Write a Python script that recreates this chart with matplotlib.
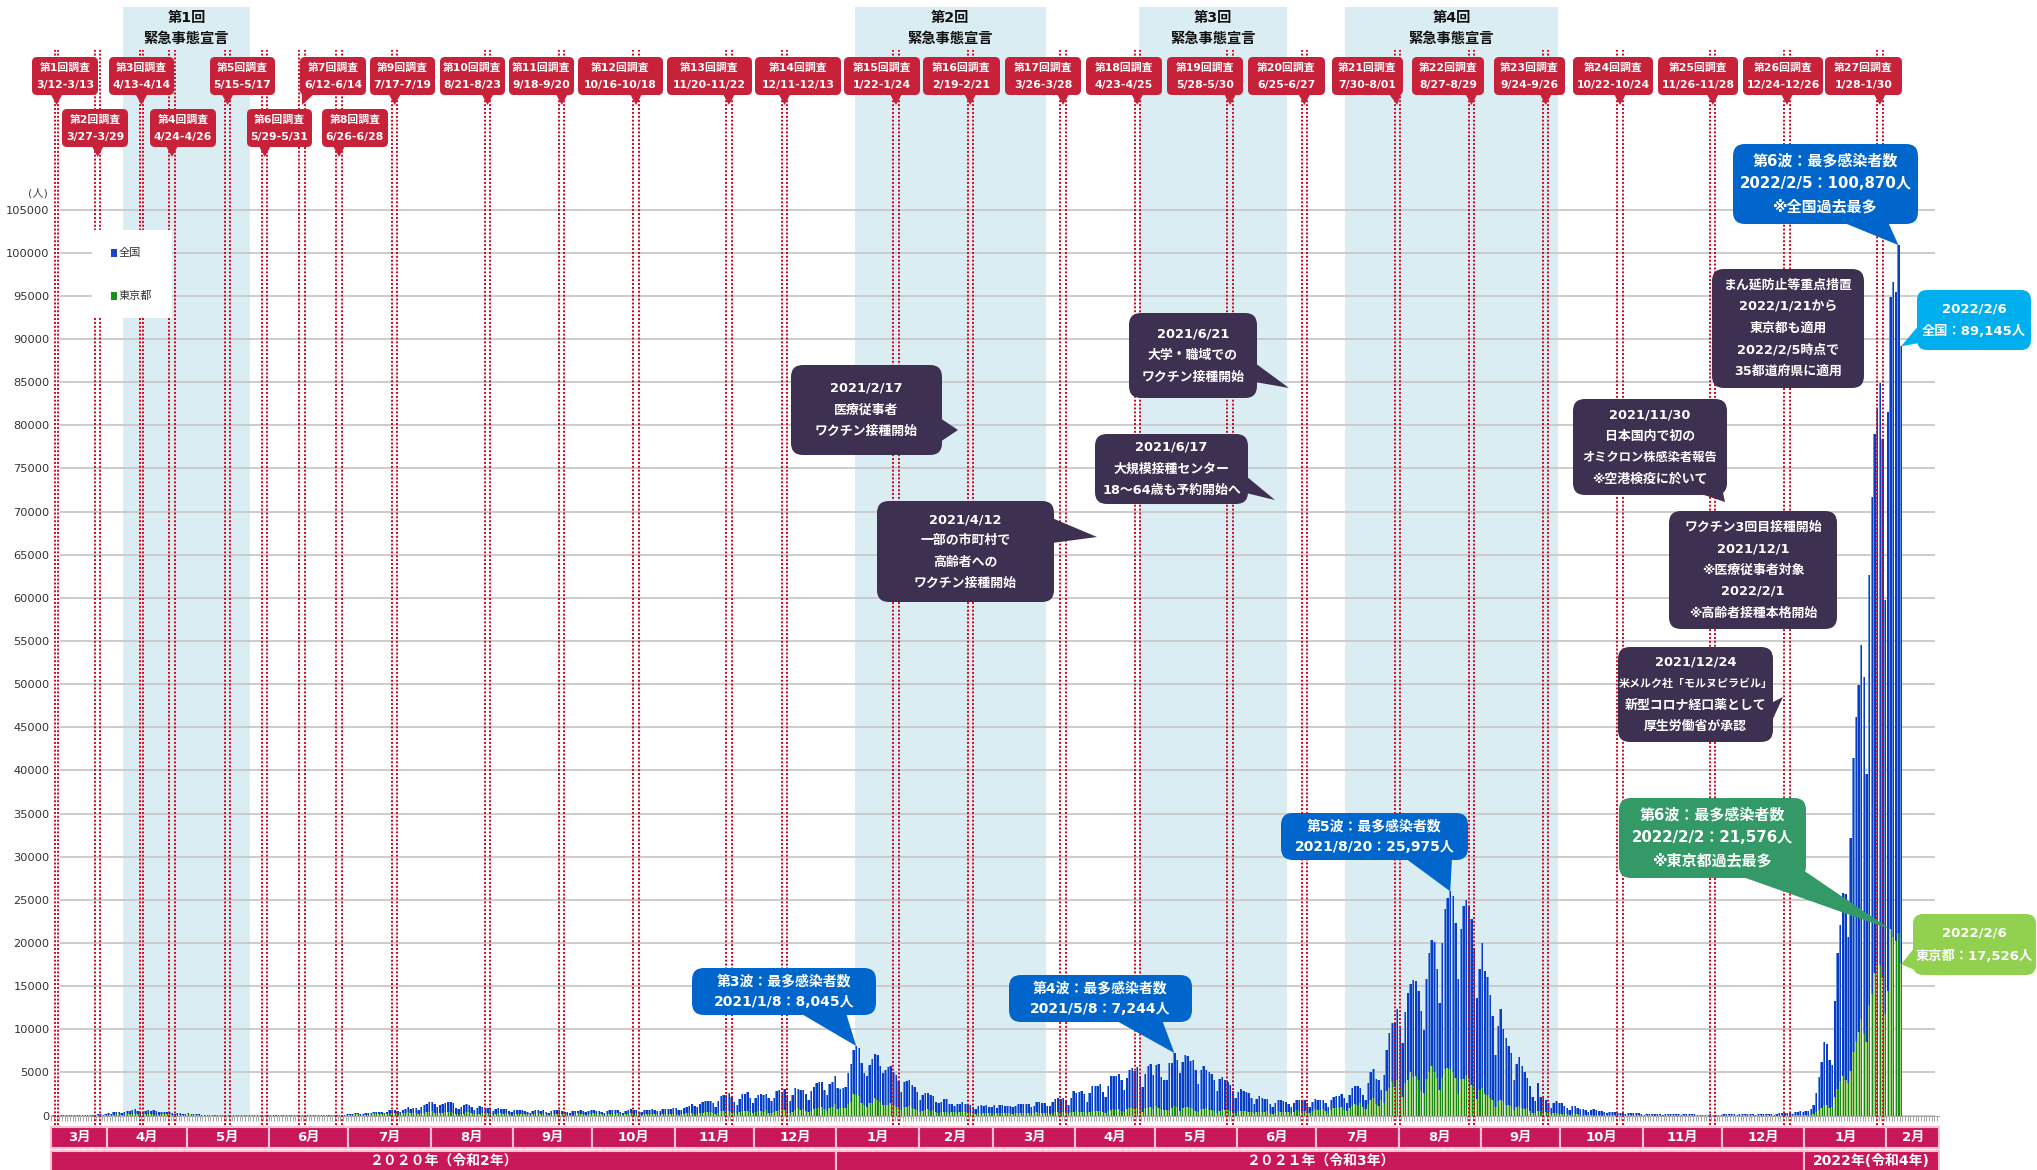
import datetime as dt
import matplotlib
matplotlib.use("Agg")
import matplotlib.pyplot as plt
import matplotlib.dates as mdates
import matplotlib.transforms as mtransforms
from matplotlib.patches import FancyBboxPatch, Polygon, Rectangle

plt.rcParams['font.family'] = ['DejaVu Sans', 'Noto Sans CJK JP']

# ---------------- DATA ----------------
# Daily new cases, whole country (全国). One inner list per month.
national_2020 = [  # from 2020-03-11
    [52, 56, 52, 60, 64, 15, 44, 39, 39, 41, 53, 43, 38, 39, 65, 93, 96, 200, 173, 87, 220],
    [266, 231, 350, 362, 382, 252, 352, 503, 576, 638, 708, 566, 390, 457, 549, 589, 576, 584, 568, 385,
     375, 439, 451, 433, 346, 201, 248, 277, 205, 174],
    [264, 197, 203, 125, 123, 98, 98, 83, 108, 54, 70, 58, 50, 53, 38, 16, 54, 26, 29, 38,
     25, 14, 27, 21, 22, 36, 38, 41, 48, 40, 48],
    [34, 40, 47, 48, 42, 44, 32, 39, 39, 44, 36, 42, 50, 56, 72, 42, 41, 33, 68, 46,
     57, 50, 31, 96, 49, 105, 94, 110, 88, 130],
    [131, 194, 250, 274, 207, 205, 302, 328, 347, 428, 386, 407, 408, 336, 452, 624, 596, 663, 510, 419,
     631, 794, 981, 769, 834, 839, 600, 981, 1264, 1301, 1580],
    [1536, 1331, 962, 1242, 1354, 1488, 1596, 1566, 1445, 818, 700, 986, 1176, 1359, 1232, 1024, 640, 900, 1045, 1009,
     908, 881, 730, 527, 705, 839, 755, 785, 740, 565, 438],
    [586, 586, 595, 629, 560, 456, 298, 508, 648, 657, 545, 627, 439, 268, 520, 616, 593, 592, 486, 448,
     364, 290, 500, 539, 568, 640, 473, 423, 518, 639],
    [597, 524, 568, 420, 340, 502, 588, 634, 595, 604, 426, 289, 554, 631, 697, 627, 587, 418, 419, 674,
     620, 652, 740, 678, 524, 511, 705, 719, 795, 732, 887],
    [859, 674, 598, 857, 1040, 1136, 1315, 1147, 953, 1275, 1543, 1709, 1712, 1728, 1440, 943, 1694, 2203, 2388, 2425,
     2596, 2168, 1519, 1227, 1942, 2503, 2517, 2683, 2060, 1438],
    [2026, 2433, 2517, 2428, 2523, 2047, 1677, 2041, 2810, 2973, 2773, 3041, 2407, 1689, 2366, 3202, 3044, 2982, 2995, 2512,
     1803, 2858, 3272, 3731, 3826, 3877, 2952, 2379, 3599, 3852, 4520],
]
national_2021 = [
    [3243, 3058, 3130, 3320, 4915, 6001, 7570, 8045, 7790, 6095, 4876, 4539, 5875, 6605, 7133, 7011, 5759, 4924, 5320, 5654,
     5681, 5027, 4704, 3990, 2764, 3853, 3960, 4132, 3538, 3345, 2673],
    [1792, 2322, 2631, 2576, 2369, 2288, 1569, 1405, 1564, 1888, 1880, 1354, 1362, 1080, 1303, 1287, 1538, 1319, 1295, 1209,
     1005, 743, 1062, 1191, 1078, 1217, 998, 1004],
    [1237, 901, 1230, 1244, 1150, 1117, 1065, 1016, 1100, 1321, 1300, 1328, 1323, 1295, 980, 1106, 1507, 1562, 1463, 1505,
     1115, 1063, 1518, 1920, 1998, 1957, 2081, 1784, 1220, 2085, 2843],
    [2605, 2765, 2798, 2460, 1567, 2657, 3449, 3445, 3454, 3697, 2776, 2110, 3459, 4580, 4555, 4533, 4793, 4093, 2953, 4358,
     5290, 5537, 5110, 5612, 4605, 3329, 4847, 5790, 5927, 4678],
    [5832, 5957, 4472, 4093, 4158, 6062, 6053, 7244, 6422, 4939, 6242, 7056, 6877, 6269, 6403, 5246, 3681, 5231, 5679, 5240,
     5097, 4846, 4078, 2799, 4173, 4449, 4152, 3832, 3491, 2854, 2083],
    [2716, 3022, 2844, 2720, 2561, 2010, 1282, 1954, 2213, 2067, 1938, 1939, 1387, 935, 1457, 1752, 1751, 1640, 1531, 1305,
     993, 1395, 1827, 1773, 1626, 1756, 1463, 1031, 1525, 1960],
    [1754, 1779, 1832, 1503, 992, 1765, 2191, 2247, 2279, 2459, 1983, 1491, 2386, 3200, 3417, 3422, 3147, 2332, 1812, 3758,
     5020, 5393, 4225, 4058, 3000, 4692, 7629, 9576, 10693, 10743, 12340],
    [10168, 8392, 12017, 14207, 15263, 15753, 15567, 14472, 12075, 9955, 15812, 18889, 20366, 20151, 17000, 13000, 19955,
     23917, 25156, 25975, 25491, 22253, 15812, 21570, 24316, 24950, 24291, 22748, 19298, 13630, 17000],
    [20031, 16761, 16000, 14000, 11500, 7000, 10376, 12400, 10000, 9000, 8000, 7200, 4100, 6000, 6800, 5700, 5000, 4300,
     3400, 2200, 1700, 3800, 2100, 2100, 1800, 1500, 900, 1500, 1700, 1500],
    [1400, 1100, 900, 600, 1100, 1100, 900, 800, 700, 600, 370, 600, 700, 600, 500, 500, 400, 250, 380, 390,
     370, 330, 290, 260, 150, 260, 300, 270, 250, 250, 190],
    [86, 145, 170, 160, 180, 200, 160, 90, 140, 200, 190, 190, 190, 120, 80, 120, 140, 130, 130, 150,
     80, 50, 80, 110, 100, 120, 110, 80, 100, 80],
    [130, 120, 120, 130, 120, 80, 120, 140, 150, 140, 140, 120, 100, 140, 180, 170, 190, 190, 150, 110,
     180, 250, 280, 270, 300, 270, 190, 380, 400, 500, 430],
]
national_2022 = [
    [534, 553, 782, 1265, 2638, 4475, 6214, 8480, 8249, 6438, 5908, 13244, 18860, 22045, 25742, 25654, 20677, 32197,
     41485, 46199, 49854, 54576, 50871, 39600, 62613, 71633, 78930, 81854, 84936, 78370, 59800],
    [81500, 94900, 96600, 95400, 100870, 89145],
]

# Daily new cases, Tokyo (東京都)
tokyo_2020 = [  # from 2020-03-11
    [5, 3, 10, 5, 1, 2, 8, 3, 5, 11, 8, 3, 17, 17, 41, 47, 40, 63, 68, 13, 78],
    [66, 97, 89, 116, 143, 83, 87, 144, 178, 189, 197, 166, 91, 161, 127, 149, 201, 181, 107, 101,
     123, 132, 134, 161, 103, 72, 39, 112, 47, 46],
    [165, 154, 91, 87, 58, 38, 23, 39, 36, 22, 15, 28, 10, 30, 9, 14, 5, 10, 5, 5,
     3, 2, 2, 14, 8, 10, 11, 15, 22, 14, 5],
    [13, 34, 12, 28, 20, 26, 14, 13, 12, 18, 22, 25, 24, 47, 48, 27, 16, 41, 35, 39,
     35, 29, 31, 55, 48, 54, 57, 60, 58, 54],
    [67, 107, 124, 131, 111, 102, 106, 75, 224, 243, 206, 206, 119, 143, 165, 286, 293, 290, 188, 168,
     237, 238, 366, 260, 295, 239, 131, 266, 250, 367, 463],
    [472, 292, 258, 309, 263, 360, 462, 429, 331, 197, 188, 222, 206, 389, 385, 260, 161, 207, 186, 339,
     258, 247, 212, 95, 182, 236, 250, 226, 247, 148, 100],
    [170, 141, 211, 141, 181, 116, 77, 170, 149, 276, 187, 181, 146, 80, 163, 191, 220, 181, 218, 169,
     98, 88, 59, 195, 270, 219, 144, 78, 212, 194],
    [235, 196, 207, 143, 78, 178, 176, 189, 186, 249, 146, 78, 166, 177, 284, 185, 235, 132, 78, 139,
     150, 185, 186, 203, 124, 102, 158, 171, 221, 215, 209],
    [116, 87, 209, 122, 269, 242, 294, 189, 157, 293, 317, 393, 374, 352, 255, 180, 298, 493, 534, 522,
     539, 391, 314, 186, 401, 481, 570, 561, 418, 311],
    [372, 500, 533, 449, 584, 327, 299, 352, 572, 602, 595, 621, 480, 305, 460, 678, 822, 664, 736, 556,
     392, 563, 748, 888, 884, 949, 708, 481, 856, 944, 1337],
]
tokyo_2021 = [
    [783, 814, 816, 884, 1278, 1591, 2447, 2392, 2268, 1494, 1219, 970, 1502, 1502, 2044, 1809, 1592, 1204, 1240, 1274,
     1471, 1175, 986, 986, 618, 1026, 973, 1064, 868, 769, 633],
    [393, 556, 676, 734, 577, 639, 429, 276, 412, 429, 434, 307, 369, 371, 266, 378, 445, 445, 353, 327,
     272, 178, 275, 213, 340, 270, 337, 329],
    [121, 232, 316, 279, 301, 237, 237, 116, 290, 340, 335, 304, 293, 239, 175, 300, 409, 323, 303, 342,
     256, 187, 337, 420, 394, 376, 430, 313, 234, 364, 414],
    [475, 440, 446, 355, 249, 399, 555, 545, 537, 570, 421, 306, 510, 591, 729, 667, 759, 543, 405, 711,
     843, 861, 759, 876, 635, 425, 828, 925, 1027, 698],
    [1050, 879, 708, 609, 621, 591, 907, 1121, 1032, 573, 925, 969, 1010, 854, 772, 542, 419, 732, 766, 843,
     654, 618, 535, 340, 537, 743, 684, 614, 539, 449, 260],
    [471, 487, 508, 472, 436, 351, 235, 369, 440, 439, 435, 467, 304, 209, 337, 501, 452, 453, 388, 376,
     236, 435, 619, 570, 562, 534, 386, 317, 476, 714],
    [673, 660, 716, 518, 342, 593, 920, 896, 822, 950, 614, 502, 830, 1149, 1308, 1271, 1410, 1008, 727, 1387,
     1832, 1979, 1359, 1128, 1763, 1429, 2848, 3177, 3865, 3300, 4058],
    [3058, 2195, 3709, 4166, 5042, 4515, 4566, 4066, 2884, 2612, 4200, 4989, 5773, 5094, 4295, 2962, 4377, 5386, 5534, 5405,
     5074, 4392, 2447, 4220, 4228, 4704, 4227, 3581, 3081, 1915, 2909],
    [3168, 2539, 2362, 2045, 1853, 968, 1629, 1834, 1675, 1242, 1273, 1067, 611, 1004, 1052, 831, 782, 862, 537, 302,
     253, 537, 531, 382, 383, 362, 154, 266, 267, 218],
    [200, 196, 161, 87, 149, 144, 138, 82, 82, 60, 49, 77, 72, 62, 62, 66, 40, 29, 36, 41,
     36, 26, 32, 19, 17, 36, 21, 29, 24, 30, 22],
    [9, 18, 29, 19, 28, 21, 21, 21, 19, 24, 25, 30, 31, 28, 11, 21, 26, 20, 11, 13,
     21, 5, 13, 8, 25, 21, 9, 13, 9, 15],
    [15, 14, 20, 11, 21, 11, 16, 17, 21, 30, 18, 20, 5, 14, 10, 22, 22, 21, 26, 11,
     37, 35, 36, 37, 37, 33, 28, 76, 76, 64, 78],
]
tokyo_2022 = [
    [79, 84, 103, 151, 390, 641, 922, 1224, 1223, 871, 962, 2198, 3124, 4051, 4561, 4172, 3719, 5185, 7377, 8638,
     9699, 11227, 9468, 8503, 12813, 14086, 16538, 17631, 17433, 15895, 11751],
    [14445, 21576, 20679, 20262, 21122, 17526],
]

series_names = ['全国', '東京都']

survey_start = ['2020-03-12', '2020-03-27', '2020-04-13', '2020-04-24', '2020-05-15', '2020-05-29', '2020-06-12',
                '2020-06-26', '2020-07-17', '2020-08-21', '2020-09-18', '2020-10-16', '2020-11-20', '2020-12-11',
                '2021-01-22', '2021-02-19', '2021-03-26', '2021-04-23', '2021-05-28', '2021-06-25', '2021-07-30',
                '2021-08-27', '2021-09-24', '2021-10-22', '2021-11-26', '2021-12-24', '2022-01-28']
survey_end = ['2020-03-13', '2020-03-29', '2020-04-14', '2020-04-26', '2020-05-17', '2020-05-31', '2020-06-14',
              '2020-06-28', '2020-07-19', '2020-08-23', '2020-09-20', '2020-10-18', '2020-11-22', '2020-12-13',
              '2021-01-24', '2021-02-21', '2021-03-28', '2021-04-25', '2021-05-30', '2021-06-27', '2021-08-01',
              '2021-08-29', '2021-09-26', '2021-10-24', '2021-11-28', '2021-12-26', '2022-01-30']
survey_dates_text = ['3/12-3/13', '3/27-3/29', '4/13-4/14', '4/24-4/26', '5/15-5/17', '5/29-5/31', '6/12-6/14',
                     '6/26-6/28', '7/17-7/19', '8/21-8/23', '9/18-9/20', '10/16-10/18', '11/20-11/22', '12/11-12/13',
                     '1/22-1/24', '2/19-2/21', '3/26-3/28', '4/23-4/25', '5/28-5/30', '6/25-6/27', '7/30-8/01',
                     '8/27-8/29', '9/24-9/26', '10/22-10/24', '11/26-11/28', '12/24-12/26', '1/28-1/30']

emergency_start = ['2020-04-07', '2021-01-08', '2021-04-25', '2021-07-12']
emergency_end = ['2020-05-25', '2021-03-21', '2021-06-20', '2021-09-30']
emergency_labels = ['第1回', '第2回', '第3回', '第4回']

y_ticks = list(range(0, 105001, 5000))

# ---------------- helpers ----------------
def expand(year, start_month, months, first_day=1):
    dates, vals = [], []
    for i, mv in enumerate(months):
        m = start_month + i
        d0 = first_day if i == 0 else 1
        for k, v in enumerate(mv):
            dates.append(dt.date(year, m, d0 + k))
            vals.append(v)
    return dates, vals

d1, v1 = expand(2020, 3, national_2020, 11)
d2, v2 = expand(2021, 1, national_2021)
d3, v3 = expand(2022, 1, national_2022)
jp_dates, jp_vals = d1 + d2 + d3, v1 + v2 + v3
d1, v1 = expand(2020, 3, tokyo_2020, 11)
d2, v2 = expand(2021, 1, tokyo_2021)
d3, v3 = expand(2022, 1, tokyo_2022)
tk_dates, tk_vals = d1 + d2 + d3, v1 + v2 + v3

def dn(s):
    if isinstance(s, str):
        s = dt.date.fromisoformat(s)
    return mdates.date2num(s)

# ---------------- figure ----------------
W, H = 2037, 1170
fig = plt.figure(figsize=(W / 100, H / 100), dpi=100)
T = mtransforms.Affine2D().scale(1 / W, -1 / H).translate(0, 1) + fig.transFigure

AX_L, AX_R, AX_T, AX_B = 51, 1939, 7, 1115.5
Y105 = 209.5
ax = fig.add_axes([AX_L / W, 1 - AX_B / H, (AX_R - AX_L) / W, (AX_B - AX_T) / H])

PXD = 2.652
x_apr = dn('2020-04-01')
ax.set_xlim(x_apr - (107 - AX_L) / PXD, x_apr + (AX_R - 107) / PXD)
ymax = 105000 * (AX_B - AX_T) / (AX_B - Y105)
ax.set_ylim(0, ymax)

def d2p(xd, yd):
    X, Y = ax.transData.transform((xd, yd))
    return X, H - Y

# emergency bands
for s, e in zip(emergency_start, emergency_end):
    ax.axvspan(dn(s), dn(e), color='#daedf3', zorder=0, lw=0)

# gridlines
xl = ax.get_xlim()
ax.hlines(y_ticks, xl[0] + 9 / PXD, xl[1] - 4 / PXD, colors='#c8c8c8', lw=1.3, zorder=1)

# bars
jx = [dn(d) + 0.5 for d in jp_dates]
tx = [dn(d) + 0.5 for d in tk_dates]
ax.bar(jx, jp_vals, width=0.9, color='#6593e4', lw=0, zorder=3)
ax.bar([x + 0.15 for x in jx], jp_vals, width=0.55, color='#0b3dc4', lw=0, zorder=3)
ax.bar(tx, tk_vals, width=0.9, color='#a9d47e', lw=0, zorder=4)
ax.bar([x + 0.22 for x in tx], tk_vals, width=0.4, color='#168a16', lw=0, zorder=4)

# survey dotted lines
y_top_line = (AX_B - 50) / (AX_B - Y105) * 105000
y_bot_line = -(1125 - AX_B) / (AX_B - Y105) * 105000
for s, e in zip(survey_start, survey_end):
    for d in (s, e):
        ax.vlines(dn(d) + 0.5, y_bot_line, y_top_line, colors='#d8001c', lw=1.4,
                  linestyles=(0, (1.0, 1.0)), zorder=6, clip_on=False)

# axes styling
for sp in ['top', 'right', 'left']:
    ax.spines[sp].set_visible(False)
ax.spines['bottom'].set_color('#a8a8a8')
ax.set_xticks([])
ax.xaxis.set_minor_locator(mdates.DayLocator())
ax.tick_params(axis='x', which='minor', length=3.5, width=0.6, color='#9a9a9a', direction='out')
ax.set_yticks(y_ticks)
ax.set_yticklabels([str(v) for v in y_ticks])
ax.tick_params(axis='y', length=0, pad=1, labelsize=8.2, labelcolor='#333333')
ax.patch.set_alpha(0)

fig.text(38, 193, '(人)', transform=T, ha='center', va='center', fontsize=8, color='#444444')

# legend
fig.add_artist(Rectangle((92, 230), 80, 88, transform=T, fc='white', ec='none', zorder=15))
fig.add_artist(Rectangle((111, 249), 6, 8, transform=T, fc='#1446d0', ec='none', zorder=16))
fig.add_artist(Rectangle((111, 292), 6, 8, transform=T, fc='#1e8f1e', ec='none', zorder=16))
fig.text(119, 253, series_names[0], transform=T, ha='left', va='center', fontsize=8, color='#333333', zorder=17)
fig.text(119, 296, series_names[1], transform=T, ha='left', va='center', fontsize=8, color='#333333', zorder=17)

# emergency labels
for s, e, lab in zip(emergency_start, emergency_end, emergency_labels):
    cx = d2p((dn(s) + dn(e)) / 2, 0)[0]
    fig.text(cx, 18, lab, transform=T, ha='center', va='center', fontsize=10.3, fontweight='bold', color='#111111')
    fig.text(cx, 38.5, '緊急事態宣言', transform=T, ha='center', va='center', fontsize=10.3, fontweight='bold',
             color='#111111')

# survey label boxes
row1 = {1: (32, 98), 3: (109, 174), 5: (210, 275), 7: (300, 366), 9: (370, 435), 10: (440, 505), 11: (509, 574),
        12: (578, 663), 13: (667, 752), 14: (755, 841), 15: (844, 920), 16: (923, 1000), 17: (1005, 1081),
        18: (1086, 1162), 19: (1167, 1243), 20: (1248, 1325), 21: (1332, 1403), 22: (1412, 1484),
        23: (1494, 1565), 24: (1573, 1653), 25: (1658, 1738), 26: (1743, 1823), 27: (1825, 1902)}
row2 = {2: (62, 128), 4: (150, 216), 6: (247, 312), 8: (322, 388)}
SRED = '#c8213a'
for i in range(len(survey_start)):
    n = i + 1
    if n in row1:
        (x0, x1), y0, y1 = row1[n], 57, 95
    else:
        (x0, x1), y0, y1 = row2[n], 109, 147
    tip = d2p((dn(survey_start[i]) + dn(survey_end[i])) / 2 + 0.5, 0)[0]
    bx = min(max(tip, x0 + 8), x1 - 8)
    fig.add_artist(FancyBboxPatch((x0, y0), x1 - x0, y1 - y0, boxstyle='round,pad=0,rounding_size=5',
                                  transform=T, fc=SRED, ec='none', zorder=18))
    fig.add_artist(Polygon([(bx - 6, y1 - 1), (bx + 6, y1 - 1), (tip, y1 + 10)], closed=True, transform=T,
                           fc=SRED, ec='none', zorder=18))
    cx = (x0 + x1) / 2
    fig.text(cx, y0 + 11, f'第{n}回調査', transform=T, ha='center', va='center', fontsize=7.8, fontweight='bold',
             color='white', zorder=19)
    fig.text(cx, y0 + 28, survey_dates_text[i], transform=T, ha='center', va='center', fontsize=7.8,
             fontweight='bold', color='white', zorder=19)

# callouts
def callout(x0, y0, x1, y1, fc, lines, fs, spacing, tail=None, r=12, tc='white'):
    fig.add_artist(FancyBboxPatch((x0, y0), x1 - x0, y1 - y0, boxstyle=f'round,pad=0,rounding_size={r}',
                                  transform=T, fc=fc, ec='none', zorder=20))
    if tail is not None:
        fig.add_artist(Polygon(tail, closed=True, transform=T, fc=fc, ec='none', zorder=20))
    cx, cy = (x0 + x1) / 2, (y0 + y1) / 2
    nl = len(lines)
    for k, s in enumerate(lines):
        f = fs
        if isinstance(s, tuple):
            s, f = s
        fig.text(cx, cy + (k - (nl - 1) / 2) * spacing, s, transform=T, ha='center', va='center', fontsize=f,
                 fontweight='bold', color=tc, zorder=21)

def val_at(dates, vals, s):
    d = dt.date.fromisoformat(s)
    return vals[dates.index(d)]

BLUE, PURPLE, DGREEN, LBLUE, LGREEN = '#0066cc', '#3e3050', '#339966', '#00b0ee', '#92d050'

p = d2p(dn('2021-01-08') + 0.5, val_at(jp_dates, jp_vals, '2021-01-08'))
callout(692, 968, 876, 1015, BLUE, ['第3波：最多感染者数', '2021/1/8：8,045人'], 10, 21,
        tail=[(800, 1013), (846, 1013), p])
p = d2p(dn('2021-05-08') + 0.5, val_at(jp_dates, jp_vals, '2021-05-08'))
callout(1009, 975, 1192, 1022, BLUE, ['第4波：最多感染者数', '2021/5/8：7,244人'], 10, 21,
        tail=[(1115, 1020), (1162, 1020), p])
p = d2p(dn('2021-08-20') + 0.5, val_at(jp_dates, jp_vals, '2021-08-20'))
callout(1281, 813, 1468, 860, BLUE, ['第5波：最多感染者数', '2021/8/20：25,975人'], 10, 21,
        tail=[(1405, 858), (1452, 858), p])
p = d2p(dn('2022-02-05') + 0.5, val_at(jp_dates, jp_vals, '2022-02-05'))
callout(1733, 144, 1918, 224, BLUE, ['第6波：最多感染者数', '2022/2/5：100,870人', '※全国過去最多'], 10.8, 23,
        tail=[(1842, 222), (1888, 222), p])
p = d2p(dn('2022-02-06') + 0.5, val_at(jp_dates, jp_vals, '2022-02-06'))
callout(1917, 290, 2031, 350, LBLUE, ['2022/2/6', '全国：89,145人'], 9.5, 23,
        tail=[(1919, 325), (1919, 343), p], r=10)
p = d2p(dn('2022-02-02') + 0.5, val_at(tk_dates, tk_vals, '2022-02-02'))
callout(1619, 798, 1806, 878, DGREEN, ['第6波：最多感染者数', '2022/2/2：21,576人', '※東京都過去最多'], 10.8, 23,
        tail=[(1740, 876), (1800, 868), p])
p = d2p(dn('2022-02-06') + 0.5, val_at(tk_dates, tk_vals, '2022-02-06'))
callout(1913, 914, 2036, 975, LGREEN, ['2022/2/6', '東京都：17,526人'], 9.5, 23,
        tail=[(1915, 947), (1915, 970), p], r=10)

callout(791, 365, 942, 455, PURPLE, ['2021/2/17', '医療従事者', 'ワクチン接種開始'], 9.3, 21.7,
        tail=[(940, 418), (940, 442), (958, 430)])
callout(877, 501, 1054, 602, PURPLE, ['2021/4/12', '一部の市町村で', '高齢者への', 'ワクチン接種開始'], 9.3, 21.3,
        tail=[(1052, 518), (1052, 543), (1097, 537)])
callout(1129, 313, 1257, 398, PURPLE, ['2021/6/21', '大学・職域での', 'ワクチン接種開始'], 9.3, 21.7,
        tail=[(1255, 363), (1255, 382), (1289, 388)])
callout(1095, 434, 1248, 504, PURPLE, ['2021/6/17', '大規模接種センター', '18〜64歳も予約開始へ'], 9.3, 21.7,
        tail=[(1246, 476), (1246, 493), (1275, 500)])
callout(1573, 399, 1727, 495, PURPLE, ['2021/11/30', '日本国内で初の', ('オミクロン株感染者報告', 8.8),
                                       '※空港検疫に於いて'],
        9.3, 21.5, tail=[(1698, 493), (1722, 488), (1725, 502)])
callout(1669, 511, 1837, 629, PURPLE, ['ワクチン3回目接種開始', '2021/12/1', '※医療従事者対象', '2022/2/1',
                                       '※高齢者接種本格開始'], 9.3, 21.5)
callout(1618, 647, 1773, 742, PURPLE, ['2021/12/24', ('米メルク社「モルヌピラビル」', 7.9), '新型コロナ経口薬として',
                                       '厚生労働省が承認'], 9.3, 21.5,
        tail=[(1771, 703), (1771, 723), (1783, 697)])
callout(1712, 269, 1864, 388, PURPLE, ['まん延防止等重点措置', '2022/1/21から', '東京都も適用', '2022/2/5時点で',
                                       '35都道府県に適用'], 9.3, 21.5)

# month / year strips
MFC, MEC = '#c8185a', '#f7c3cf'
bounds = [ax.get_xlim()[0]]
y, m = 2020, 4
while (y, m) <= (2022, 2):
    bounds.append(dn(dt.date(y, m, 1)))
    y, m = (y + 1, 1) if m == 12 else (y, m + 1)
bounds.append(ax.get_xlim()[1])
mlabels = [f'{k}月' for k in range(3, 13)] + [f'{k}月' for k in range(1, 13)] + ['1月', '2月']
for i, lab in enumerate(mlabels):
    xa, xb = d2p(bounds[i], 0)[0], d2p(bounds[i + 1], 0)[0]
    fig.add_artist(Rectangle((xa, 1127), xb - xa, 21, transform=T, fc=MFC, ec=MEC, lw=1.5, zorder=10))
    fig.text((xa + xb) / 2, 1137.5, lab, transform=T, ha='center', va='center', fontsize=9.5, fontweight='bold',
             color='white', zorder=11)
ybounds = [bounds[0], dn('2021-01-01'), dn('2022-01-01'), bounds[-1]]
ylabels = ['２０２０年（令和2年）', '２０２１年（令和3年）', '2022年(令和4年)']
for i, lab in enumerate(ylabels):
    xa, xb = d2p(ybounds[i], 0)[0], d2p(ybounds[i + 1], 0)[0]
    fig.add_artist(Rectangle((xa, 1151), xb - xa, 22, transform=T, fc=MFC, ec=MEC, lw=1.5, zorder=10))
    fig.text((xa + xb) / 2, 1161, lab, transform=T, ha='center', va='center', fontsize=10, fontweight='bold',
             color='white', zorder=11)

fig.savefig('out.png', dpi=100)
